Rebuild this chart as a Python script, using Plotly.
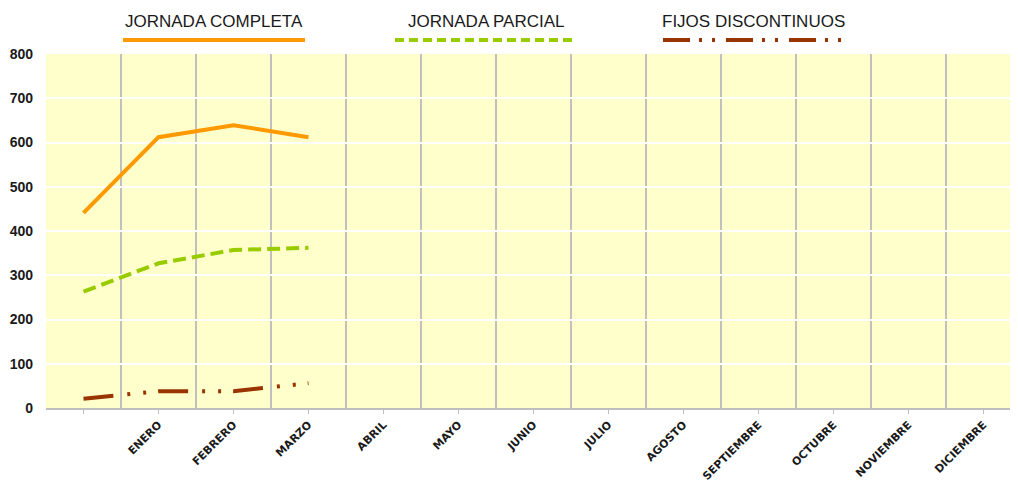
import plotly.graph_objects as go

categories = ["", "ENERO", "FEBRERO", "MARZO", "ABRIL", "MAYO", "JUNIO", "JULIO",
              "AGOSTO", "SEPTIEMBRE", "OCTUBRE", "NOVIEMBRE", "DICIEMBRE"]
completa = [441, 612, 639, 612]
parcial = [263, 327, 357, 362]
fijos = [21, 38, 38, 56]
series_names = ["JORNADA COMPLETA", "JORNADA PARCIAL", "FIJOS DISCONTINUOS"]
y_ticks = [0, 100, 200, 300, 400, 500, 600, 700, 800]

colors = ["#FF9900", "#99CC00", "#993300"]
dashes = ["solid", "13px,6px", "30px,14px,3px,13px,3px,12px"]
legend_dashes = ["solid", "9px,5px", "27px,9px,3px,10px,3px,11px"]

# page has an 8px body margin, so the figure is sized to fit the window
OFF = 8
W, H = 1018 - OFF, 484 - OFF
L, T, B = 46 - OFF, 54 - OFF, 76

fig = go.Figure()
xs = list(range(len(categories)))
for name, vals, col, dsh in zip(series_names, [completa, parcial, fijos], colors, dashes):
    fig.add_trace(go.Scatter(x=xs[:len(vals)], y=vals, mode="lines", name=name,
                             line=dict(color=col, width=4, dash=dsh),
                             showlegend=False))

# custom legend (text above line swatch); positions given in page pixels
def px2paper_x(px):
    return (px - OFF - L) / (W - L)

def px2paper_y(py):
    return (H - B - (py - OFF)) / (H - B - T)

legend_items = [(123, 305), (395, 577), (663, 843)]
for (x0, x1), name, col, dsh in zip(legend_items, series_names, colors, legend_dashes):
    fig.add_shape(type="line", xref="paper", yref="paper",
                  x0=px2paper_x(x0), x1=px2paper_x(x1),
                  y0=px2paper_y(40), y1=px2paper_y(40),
                  line=dict(color=col, width=4, dash=dsh))
    fig.add_annotation(xref="paper", yref="paper", x=px2paper_x((x0 + x1) / 2),
                       y=px2paper_y(21), text=name, showarrow=False,
                       xanchor="center", yanchor="middle",
                       font=dict(family="Liberation Sans Narrow, Liberation Sans, Arial",
                                 size=17, color="#1a1a1a"))

fig.update_layout(
    width=W, height=H,
    margin=dict(l=L, r=0, t=T, b=B),
    paper_bgcolor="white",
    plot_bgcolor="#FFFFCC",
    showlegend=False,
)
fig.update_xaxes(
    range=[-0.5, 12.46],
    tickmode="array", tickvals=xs, ticktext=categories,
    tickangle=-45,
    tickfont=dict(family="DejaVu Sans", size=11, color="#1a1a1a", weight="bold"),
    ticks="outside", ticklen=4, tickcolor="#BFBFBF", tickwidth=1,
    showgrid=False,
    showline=True, linecolor="#BFBFBF", linewidth=2,
    zeroline=False,
    minor=dict(tickmode="array", tickvals=[i + 0.5 for i in xs[:-1]],
               showgrid=True, gridcolor="#C0C0C0", gridwidth=2, ticks=""),
)
fig.update_yaxes(
    range=[0, 800],
    tickmode="array", tickvals=y_ticks,
    tickfont=dict(family="Liberation Sans, Arial", size=14, color="#1a1a1a", weight="bold"),
    showgrid=True, gridcolor="white", gridwidth=2,
    zeroline=False, showline=False,
    ticklabelstandoff=12,
)

fig.write_html("out.html")
